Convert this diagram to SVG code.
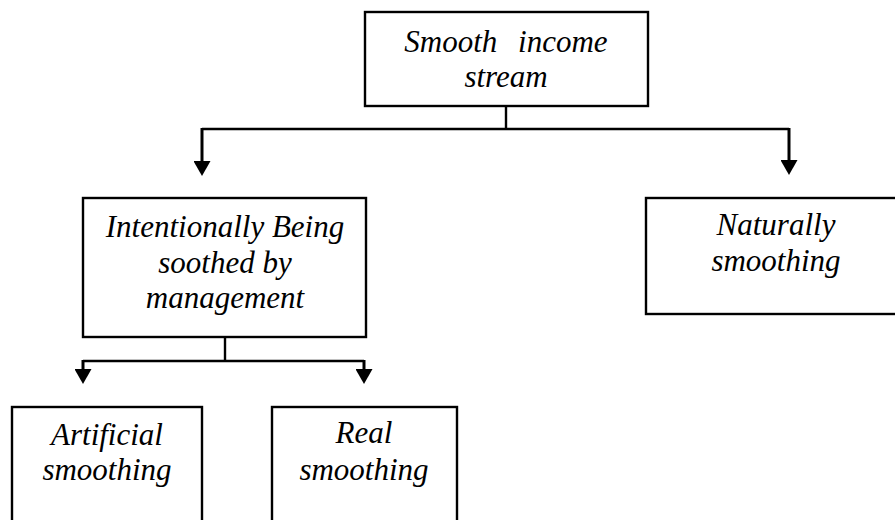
<svg xmlns="http://www.w3.org/2000/svg" width="895" height="520" viewBox="0 0 895 520">
<style>
.box{fill:#fff;stroke:#000;stroke-width:2.4}
.lbl{font-family:"Liberation Serif","Times New Roman",serif;font-style:italic;font-size:31px;fill:#000;text-anchor:middle}
.con{fill:none;stroke:#000;stroke-width:2.4}
.shaft{fill:none;stroke:#000;stroke-width:3}
</style>
<defs>
<marker id="arr" viewBox="0 0 15 17" refX="7" refY="8.5" markerWidth="15" markerHeight="17" markerUnits="userSpaceOnUse" orient="auto">
<path d="M0,0 L15,8.5 L0,17 z" fill="#000"/>
</marker>
</defs>
<rect width="895" height="520" fill="#fff"/>
<g id="connectors">
<path class="con" d="M506,106 V129"/>
<path class="con" d="M202,129 H789"/>
<path class="shaft" d="M202,128 V168" marker-end="url(#arr)"/>
<path class="shaft" d="M789,128 V167" marker-end="url(#arr)"/>
<path class="con" d="M225,337 V361"/>
<path class="con" d="M83,361 H364"/>
<path class="shaft" d="M83,360 V376" marker-end="url(#arr)"/>
<path class="shaft" d="M364,360 V376" marker-end="url(#arr)"/>
</g>
<g id="smooth-income">
<rect class="box" x="365" y="12" width="283" height="94"/>
<text class="lbl" x="506" y="52" word-spacing="13">Smooth income</text>
<text class="lbl" x="506" y="87">stream</text>
</g>
<g id="intentionally">
<rect class="box" x="83" y="198" width="283" height="139"/>
<text class="lbl" x="225" y="237">Intentionally Being</text>
<text class="lbl" x="225" y="273">soothed by</text>
<text class="lbl" x="225" y="308">management</text>
</g>
<g id="naturally">
<rect class="box" x="646" y="198" width="262" height="116"/>
<text class="lbl" x="776" y="235">Naturally</text>
<text class="lbl" x="776" y="271">smoothing</text>
</g>
<g id="artificial">
<rect class="box" x="12" y="407" width="190" height="140"/>
<text class="lbl" x="107" y="445">Artificial</text>
<text class="lbl" x="107" y="480">smoothing</text>
</g>
<g id="real">
<rect class="box" x="272" y="407" width="185" height="140"/>
<text class="lbl" x="364" y="443">Real</text>
<text class="lbl" x="364" y="480">smoothing</text>
</g>
</svg>
